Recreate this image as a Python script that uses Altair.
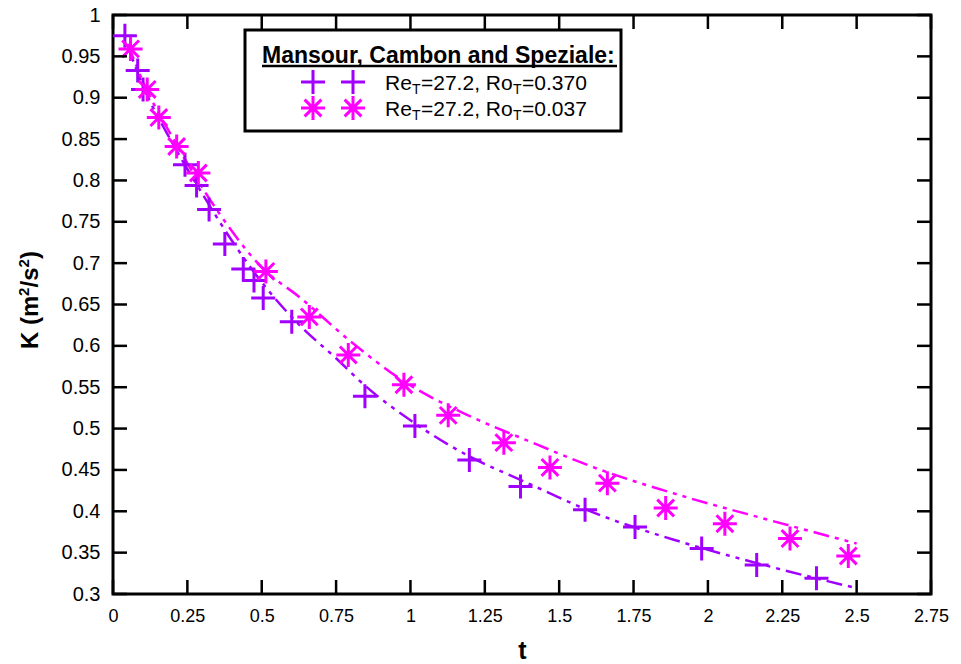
import altair as alt
import pandas as pd

# ---- data ----
# Markers, Re_T=27.2, Ro_T=0.370 ("+")
t_plus = [0.040, 0.083, 0.101, 0.242, 0.281, 0.323, 0.376, 0.438, 0.474, 0.505,
          0.601, 0.847, 1.015, 1.198, 1.370, 1.587, 1.755, 1.979, 2.164, 2.365]
k_plus = [0.975, 0.933, 0.910, 0.819, 0.794, 0.765, 0.723, 0.693, 0.679, 0.658,
          0.629, 0.539, 0.503, 0.462, 0.430, 0.402, 0.381, 0.355, 0.335, 0.319]
# Markers, Re_T=27.2, Ro_T=0.037 (asterisk)
t_star = [0.059, 0.115, 0.154, 0.214, 0.287, 0.514, 0.660, 0.791, 0.978, 1.127,
          1.314, 1.469, 1.662, 1.858, 2.057, 2.276, 2.472]
k_star = [0.959, 0.910, 0.876, 0.841, 0.809, 0.690, 0.635, 0.589, 0.553, 0.516,
          0.483, 0.453, 0.434, 0.404, 0.385, 0.367, 0.346]
# Dashed model curves
t_line_p = [0.05, 0.1, 0.2, 0.3, 0.4, 0.5, 0.63, 0.75, 0.85, 1.0, 1.2, 1.37, 1.64, 1.9, 2.2, 2.5]
k_line_p = [0.962, 0.915, 0.845, 0.784, 0.727, 0.677, 0.624, 0.585, 0.551, 0.510, 0.466, 0.438,
            0.395, 0.364, 0.334, 0.307]
t_line_m = [0.05, 0.1, 0.2, 0.35, 0.5, 0.63, 0.8, 0.97, 1.2, 1.39, 1.64, 1.9, 2.2, 2.5]
k_line_m = [0.965, 0.920, 0.852, 0.764, 0.695, 0.658, 0.605, 0.559, 0.515, 0.486, 0.450,
            0.420, 0.390, 0.361]

x_ticks = [0, 0.25, 0.5, 0.75, 1, 1.25, 1.5, 1.75, 2, 2.25, 2.5, 2.75]
y_ticks = [0.3, 0.35, 0.4, 0.45, 0.5, 0.55, 0.6, 0.65, 0.7, 0.75, 0.8, 0.85, 0.9, 0.95, 1]

legend_title = "Mansour, Cambon and Speziale:"
legend_rows = [["Re", "T", "=27.2, Ro", "T", "=0.370"],
               ["Re", "T", "=27.2, Ro", "T", "=0.037"]]
y_title_pieces = ["K (m", "2", "/s", "2", ")"]
x_title = "t"

PURPLE = "#A100FF"
MAGENTA = "#FF00FF"
FONT = "Liberation Sans"
W, H = 818, 579
PLUS = "M-1,0H1M0,-1V1"
STAR = "M-1,0H1M0,-1V1M-0.7,-0.7L0.7,0.7M-0.7,0.7L0.7,-0.7"

xs = alt.Scale(domain=[0, 2.75], nice=False, zero=False)
ys = alt.Scale(domain=[0.3, 1], nice=False, zero=False)

df_plus = pd.DataFrame({"t": t_plus, "K": k_plus})
df_star = pd.DataFrame({"t": t_star, "K": k_star})
df_lp = pd.DataFrame({"t": t_line_p, "K": k_line_p})
df_lm = pd.DataFrame({"t": t_line_m, "K": k_line_m})
df_xt = pd.DataFrame({"t": x_ticks})
df_yt = pd.DataFrame({"K": y_ticks})
one = pd.DataFrame({"a": [0]})

x_axis = alt.Axis(values=x_ticks, labelExpr="'' + datum.value", ticks=False, domain=False,
                  grid=False, labelFontSize=18, labelFont=FONT, labelPadding=13,
                  labelFlush=False, labelOverlap=False,
                  labelColor="black", title=x_title, titleFont=FONT, titleFontSize=25,
                  titleFontWeight="bold", titleY=56, titleBaseline="middle", titleColor="black")
y_axis = alt.Axis(values=y_ticks, labelExpr="'' + datum.value", ticks=False, domain=False,
                  grid=False, labelFontSize=20, labelFont=FONT, labelPadding=13,
                  labelFlush=False, labelOverlap=False, labelColor="black", title=None)

dash = [16, 6, 4, 6, 4, 6]
line_p = alt.Chart(df_lp).mark_line(color=PURPLE, strokeWidth=2.5, strokeDash=dash,
                                    interpolate="monotone").encode(
    x=alt.X("t:Q", scale=xs, axis=x_axis), y=alt.Y("K:Q", scale=ys, axis=y_axis))
line_m = alt.Chart(df_lm).mark_line(color=MAGENTA, strokeWidth=2.5, strokeDash=dash,
                                    interpolate="monotone").encode(
    x=alt.X("t:Q", scale=xs), y=alt.Y("K:Q", scale=ys))
pts_plus = alt.Chart(df_plus).mark_point(shape=PLUS, size=576, filled=False, stroke=PURPLE,
                                         strokeWidth=3, opacity=1).encode(
    x=alt.X("t:Q", scale=xs), y=alt.Y("K:Q", scale=ys))
pts_star = alt.Chart(df_star).mark_point(shape=STAR, size=576, filled=False, stroke=MAGENTA,
                                         strokeWidth=3, opacity=1).encode(
    x=alt.X("t:Q", scale=xs), y=alt.Y("K:Q", scale=ys))

# inward ticks on all four sides
TL = 14
tick_b = alt.Chart(df_xt).mark_rule(color="black", strokeWidth=2.5).encode(
    x=alt.X("t:Q", scale=xs), y=alt.value(H), y2=alt.value(H - TL))
tick_t = alt.Chart(df_xt).mark_rule(color="black", strokeWidth=2.5).encode(
    x=alt.X("t:Q", scale=xs), y=alt.value(0), y2=alt.value(TL))
tick_l = alt.Chart(df_yt).mark_rule(color="black", strokeWidth=2.5).encode(
    y=alt.Y("K:Q", scale=ys), x=alt.value(0), x2=alt.value(TL))
tick_r = alt.Chart(df_yt).mark_rule(color="black", strokeWidth=2.5).encode(
    y=alt.Y("K:Q", scale=ys), x=alt.value(W), x2=alt.value(W - TL))

# y-axis title with real superscripts, rotated
ytitle_layers = []
ypos = [334, 281, 272.5, 252.5, 244]
for piece, yp in zip(y_title_pieces, ypos):
    sup = piece == "2"
    ytitle_layers.append(alt.Chart(one).mark_text(
        text=piece, font=FONT, fontSize=15 if sup else 24, fontWeight="bold", angle=270,
        align="left", baseline="alphabetic", color="black").encode(
        x=alt.value(-84 if sup else -75), y=alt.value(yp)))

# legend box
box = alt.Chart(one).mark_rect(fill="white", stroke="black", strokeWidth=3).encode(
    x=alt.value(132), x2=alt.value(508), y=alt.value(15), y2=alt.value(116))
title_txt = alt.Chart(one).mark_text(text=legend_title, font=FONT, fontSize=23,
                                     fontWeight="bold", align="left", baseline="alphabetic",
                                     color="black").encode(x=alt.value(149), y=alt.value(48))
underline = alt.Chart(one).mark_rule(color="black", strokeWidth=2.5).encode(
    x=alt.value(149), x2=alt.value(504), y=alt.value(51))

leg_layers = []
for i, (shape, col) in enumerate([(PLUS, PURPLE), (STAR, MAGENTA)]):
    yy = 67 + 26 * i
    for xx in (200, 240):
        leg_layers.append(alt.Chart(one).mark_point(shape=shape, size=576, filled=False,
                                                    stroke=col, strokeWidth=3, opacity=1).encode(
            x=alt.value(xx), y=alt.value(yy)))
    base = 75 + 26 * i
    xpos = [272, 299, 308, 400, 409]
    for j, piece in enumerate(legend_rows[i]):
        sub = piece == "T"
        leg_layers.append(alt.Chart(one).mark_text(
            text=piece, font=FONT, fontSize=14 if sub else 21, align="left",
            baseline="alphabetic", color="black").encode(
            x=alt.value(xpos[j]), y=alt.value(base + (4 if sub else 0))))

chart = alt.layer(line_p, line_m, pts_plus, pts_star, tick_b, tick_t, tick_l, tick_r,
                  *ytitle_layers, box, title_txt, underline, *leg_layers).properties(
    width=W, height=H,
    autosize=alt.AutoSizeParams(type="none"),
    padding={"left": 113, "top": 15, "right": 30, "bottom": 70},
    background="white",
).configure_view(stroke="black", strokeWidth=3)

chart.save("out.html", embed_options={"renderer": "svg", "actions": False})
